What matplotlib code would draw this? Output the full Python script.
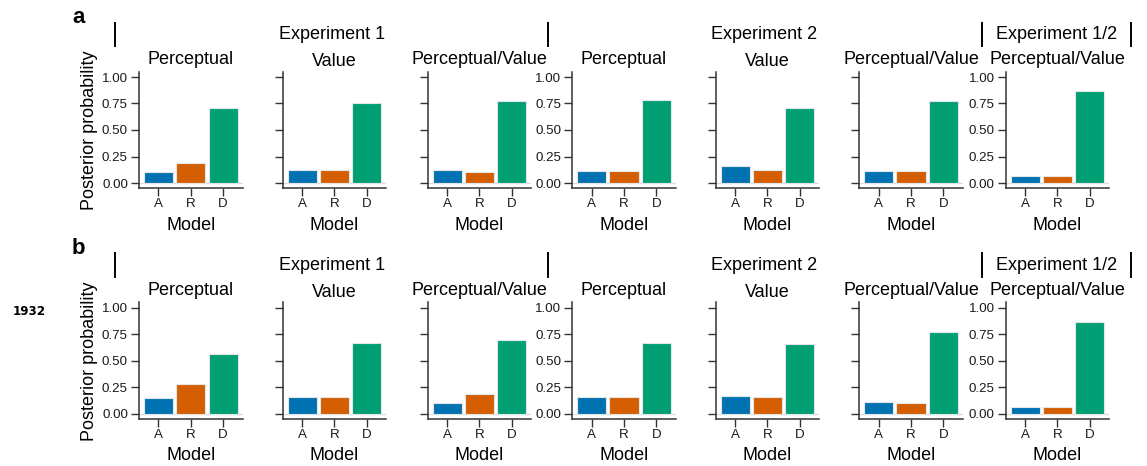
import matplotlib
matplotlib.use("Agg")
import matplotlib.pyplot as plt
from matplotlib.lines import Line2D
import numpy as np

plt.rcParams['font.family'] = ['Liberation Sans', 'DejaVu Sans']

# ---------------- data ----------------
models = ['A', 'R', 'D']
conditions = ['Perceptual', 'Value', 'Perceptual/Value',
              'Perceptual', 'Value', 'Perceptual/Value',
              'Perceptual/Value']
experiments = ['Experiment 1', 'Experiment 2', 'Experiment 1/2']
row_labels = ['a', 'b']
side_note = '1932'
y_ticks = [0.0, 0.25, 0.5, 0.75, 1.0]
y_ticklabels = ['0.00', '0.25', '0.50', '0.75', '1.00']

# row a posterior probabilities (per condition)
a_A = [0.10, 0.125, 0.12, 0.11, 0.16, 0.11, 0.068]
a_R = [0.19, 0.12, 0.10, 0.11, 0.125, 0.11, 0.065]
a_D = [0.705, 0.75, 0.77, 0.78, 0.71, 0.775, 0.865]
# row b posterior probabilities
b_A = [0.15, 0.163, 0.10, 0.16, 0.172, 0.11, 0.066]
b_R = [0.28, 0.163, 0.19, 0.16, 0.163, 0.105, 0.063]
b_D = [0.56, 0.665, 0.70, 0.67, 0.655, 0.775, 0.865]

colors = ['#0072B2', '#D55E00', '#009E73']

# ---------------- layout ----------------
W, H = 1147, 466
fig = plt.figure(figsize=(W / 100, H / 100), dpi=100)


def fx(x):
    return x / W


def fy(y):
    return 1 - y / H


lefts = [139, 282.7, 427.7, 572.3, 715.7, 859.3, 1005.7]
ax_w = 103.5
rows = [dict(top=71.7, bot=188.3, A=a_A, R=a_R, D=a_D),
        dict(top=302.4, bot=419.3, A=b_A, R=b_R, D=b_D)]
row_shift = [0, 230.5]
label_cols = [0, 3, 6]
spine_c = '#333333'

for r, row in enumerate(rows):
    dy = row_shift[r]
    for i, cond in enumerate(conditions):
        ax = fig.add_axes([fx(lefts[i]), fy(row['bot']),
                           ax_w / W, (row['bot'] - row['top']) / H])
        vals = [row['A'][i], row['R'][i], row['D'][i]]
        x = np.arange(len(models))
        ax.axhline(0, color='#dddddd', lw=1.0, zorder=1)
        ax.bar(x, vals, width=0.9, color=colors, edgecolor='#e6e6e6',
               linewidth=0.8, zorder=2)
        ax.set_xlim(-0.6, 2.6)
        ax.set_ylim(-0.05, 1.05)
        ax.set_xticks(x)
        ax.set_xticklabels(models)
        ax.set_yticks(y_ticks)
        if i in label_cols:
            ax.set_yticklabels(y_ticklabels)
        else:
            ax.set_yticklabels([])
        for s in ['top', 'right']:
            ax.spines[s].set_visible(False)
        for s in ['left', 'bottom']:
            ax.spines[s].set_color(spine_c)
            ax.spines[s].set_linewidth(1.1)
        ax.tick_params(axis='both', direction='out', length=5.5, width=1.0,
                       color=spine_c, labelsize=9.6, labelcolor='#1a1a1a')
        ax.tick_params(axis='y', pad=2.5)
        ax.tick_params(axis='x', pad=1.5)
        ax.patch.set_alpha(0)
        # panel title (ink bottom aligned like ggplot)
        has_desc = any(c in cond for c in 'gjpqy')
        cx = lefts[i] + ax_w / 2
        base = 64.3 + dy + (0 if has_desc else 2.2)
        fig.text(fx(cx), fy(base), cond, ha='center', va='baseline',
                 fontsize=13)
        # x label
        fig.text(fx(cx), fy(230 + dy), 'Model', ha='center', va='baseline',
                 fontsize=13)
    # y label
    fig.text(fx(90), fy((row['top'] + row['bot']) / 2), 'Posterior probability',
             rotation=90, ha='center', va='center', fontsize=13)
    # panel letter
    fig.text(fx(72), fy(23.3 + dy), row_labels[r], ha='left', va='baseline',
             fontsize=16, fontweight='bold')
    # experiment headers
    seps = [115, 548.3, 982.3, 1130.7]
    for sx in seps:
        fig.add_artist(Line2D([fx(sx), fx(sx)], [fy(23 + dy), fy(46 + dy)],
                              transform=fig.transFigure, color='black', lw=1.4))
    centers = [(115 + 548.3) / 2, (548.3 + 980) / 2, (982.3 + 1130.7) / 2]
    for c, name in zip(centers, experiments):
        fig.text(fx(c), fy(39.3 + dy), name, ha='center', va='baseline',
                 fontsize=13)

fig.text(fx(12.3), fy(315), side_note, ha='left', va='baseline',
         fontsize=8.6, fontweight='bold', family='DejaVu Sans')

fig.savefig('out.png', dpi=100)
